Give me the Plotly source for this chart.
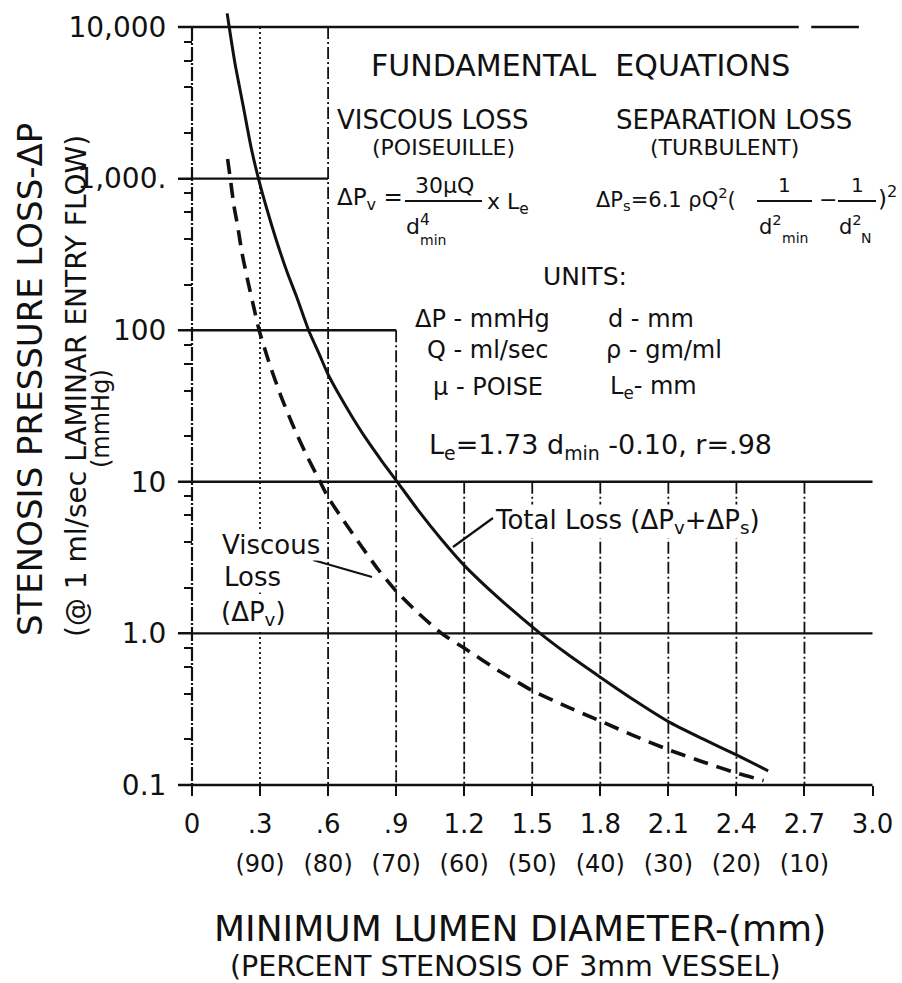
import plotly.graph_objects as go

# ---------------- data ----------------
total_x = [0.155, 0.164, 0.19, 0.226, 0.26, 0.293, 0.33, 0.37, 0.42, 0.46, 0.514,
           0.56, 0.6, 0.65, 0.703, 0.769, 0.84, 0.905, 1.0, 1.1, 1.2, 1.35, 1.535,
           1.65, 1.8, 1.95, 2.1, 2.25, 2.4, 2.54]
total_y = [12300, 10000, 5700, 3000, 1620, 1000, 630, 400, 240, 168, 100,
           70, 51, 37.2, 27.3, 19.1, 13.5, 10, 6.4, 4.16, 2.81, 1.72, 1.0,
           0.739, 0.514, 0.362, 0.262, 0.202, 0.158, 0.124]

visc_x = [0.157, 0.17, 0.185, 0.201, 0.221, 0.248, 0.277, 0.296, 0.34, 0.39, 0.44,
          0.5, 0.565, 0.6, 0.67, 0.75, 0.82, 0.9, 1.0, 1.1, 1.2, 1.35, 1.5, 1.65,
          1.8, 1.95, 2.1, 2.25, 2.4, 2.52]
visc_y = [1345, 971, 660, 489, 320, 205, 132, 100, 61, 37.5, 24.5,
          15.5, 10, 7.9, 5.5, 3.7, 2.65, 1.9, 1.35, 1.0, 0.8, 0.57, 0.42, 0.33,
          0.264, 0.211, 0.171, 0.1425, 0.12, 0.107]

x_tick_vals = [0, 0.3, 0.6, 0.9, 1.2, 1.5, 1.8, 2.1, 2.4, 2.7, 3.0]
x_tick_text = ["0", ".3", ".6", ".9", "1.2", "1.5", "1.8", "2.1", "2.4", "2.7", "3.0"]
pct_tick_vals = [0.3, 0.6, 0.9, 1.2, 1.5, 1.8, 2.1, 2.4, 2.7]
pct_tick_text = ["(90)", "(80)", "(70)", "(60)", "(50)", "(40)", "(30)", "(20)", "(10)"]
y_tick_vals = [0.1, 1, 10, 100, 1000, 10000]
y_tick_text = ["0.1", "1.0", "10", "100", "1,000.", "10,000"]
y_minor_vals = [m * 10.0 ** e for e in range(-1, 4) for m in (2, 4, 6, 8)]

# partial grid lines of the original figure
hgrid_y = [10000, 10000, 1000, 100, 10, 1, 0.1]
hgrid_x0 = [-0.062, 2.73, -0.062, -0.062, -0.062, -0.062, -0.062]
hgrid_x1 = [2.675, 2.94, 0.6, 0.9, 3.0, 3.0, 3.0]
vgrid_x = [0.6, 0.9, 1.2, 1.5, 1.8, 2.1, 2.4, 2.7]
vgrid_top = [10000, 100, 10, 10, 10, 10, 10, 10]
dotted_x = [0.3]
dotted_top = [10000]
axis_bottom = 0.1

# ---------------- geometry ----------------
W, H = 902, 983
X0_PX, X3_PX = 192.0, 872.5
Y4_PX, YM1_PX = 27.0, 785.0
ppx = (X3_PX - X0_PX) / 3.0
ppd = (YM1_PX - Y4_PX) / 5.0
ML, MR, MT, MB = 170, 7, 4, 176
PW, PH = W - ML - MR, H - MT - MB
x_range = [(ML - X0_PX) / ppx, (W - MR - X0_PX) / ppx]
y_range = [-1 - (H - MB - YM1_PX) / ppd, 4 + (Y4_PX - MT) / ppd]


def fx(px):
    return (px - ML) / PW


def fy(py):
    return (H - MB - py) / PH


FONT = "DejaVu Sans"
BLACK = "#111111"


def segs(xs0, xs1, ys0, ys1):
    X, Y = [], []
    for a, b, c, d in zip(xs0, xs1, ys0, ys1):
        X += [a, b, None]
        Y += [c, d, None]
    return X, Y


fig = go.Figure()

# horizontal decade lines
hx, hy = segs(hgrid_x0, hgrid_x1, hgrid_y, hgrid_y)
fig.add_trace(go.Scatter(x=hx, y=hy, mode="lines", line=dict(color=BLACK, width=2.4),
                         hoverinfo="skip", showlegend=False))
# dash-dot verticals
vx, vy = segs(vgrid_x, vgrid_x, vgrid_top, [axis_bottom] * len(vgrid_x))
fig.add_trace(go.Scatter(x=vx, y=vy, mode="lines",
                         line=dict(color=BLACK, width=1.8, dash="12px,3px,2px,3px"),
                         hoverinfo="skip", showlegend=False))
# dotted vertical
dx, dy = segs(dotted_x, dotted_x, dotted_top, [axis_bottom])
fig.add_trace(go.Scatter(x=dx, y=dy, mode="lines",
                         line=dict(color=BLACK, width=1.8, dash="2px,3px"),
                         hoverinfo="skip", showlegend=False))
# y axis line
fig.add_trace(go.Scatter(x=[0, 0], y=[10000, axis_bottom], mode="lines",
                         line=dict(color=BLACK, width=2.2, dash="14px,2px,2px,2px"),
                         hoverinfo="skip", showlegend=False))

# curves
fig.add_trace(go.Scatter(x=total_x, y=total_y, mode="lines", name="Total Loss",
                         line=dict(color=BLACK, width=3, shape="spline", smoothing=0.6),
                         hoverinfo="skip", showlegend=False))
fig.add_trace(go.Scatter(x=visc_x, y=visc_y, mode="lines", name="Viscous Loss",
                         line=dict(color=BLACK, width=3.6, dash="15px,9px",
                                   shape="spline", smoothing=0.6),
                         hoverinfo="skip", showlegend=False))
# invisible trace to carry the percent-stenosis axis
fig.add_trace(go.Scatter(x=[pct_tick_vals[0]], y=[1], xaxis="x2", mode="markers",
                         marker=dict(opacity=0), hoverinfo="skip", showlegend=False))

ann = []


def txt(s, px, py, size, xanchor="center", yanchor="middle", angle=0, bg=None):
    d = dict(text=s, x=fx(px), y=fy(py), xref="paper", yref="paper", showarrow=False,
             xanchor=xanchor, yanchor=yanchor, textangle=angle, borderpad=0,
             font=dict(family=FONT, size=size, color=BLACK))
    if bg:
        d["bgcolor"] = bg
    ann.append(d)


# y-axis titles
txt("STENOSIS PRESSURE LOSS-ΔP", 30, 380, 34, angle=-90)
txt("(@ 1 ml/sec LAMINAR ENTRY FLOW)", 76, 386, 28, angle=-90)
txt("(mmHg)", 101, 419, 24, angle=-90)
# x-axis titles
txt("MINIMUM LUMEN DIAMETER-(mm)", 520, 928, 36)
txt("(PERCENT STENOSIS OF 3mm VESSEL)", 505, 967, 28.5)

# equations block
txt("FUNDAMENTAL  EQUATIONS", 580, 66, 30)
txt("VISCOUS LOSS", 336, 120, 26, xanchor="left")
txt("(POISEUILLE)", 443, 147, 22)
txt("SEPARATION LOSS", 615, 120, 26, xanchor="left")
txt("(TURBULENT)", 724, 147, 22)

txt("ΔP<sub>v</sub> =", 336, 199, 23, xanchor="left")
txt("30μQ", 444, 185, 22)
txt("d<sup>4</sup>", 418, 225, 22)
txt("min", 419, 240, 14, xanchor="left")
txt("x L<sub>e</sub>", 486, 203, 22, xanchor="left")

txt("ΔP<sub>s</sub>=6.1 ρQ<sup>2</sup>(", 595, 199, 21, xanchor="left")
txt("1", 784, 185, 20)
txt("d<sup>2</sup>", 770, 225, 21)
txt("min", 781, 238, 14, xanchor="left")
txt("−", 828, 200, 22)
txt("1", 857, 185, 20)
txt("d<sup>2</sup>", 850, 225, 21)
txt("N", 860, 238, 14, xanchor="left")
txt(")<sup>2</sup>", 877, 197, 23, xanchor="left")

txt("UNITS:", 585, 276, 25)
txt("ΔP - mmHg", 414, 319, 24, xanchor="left")
txt("d - mm", 607, 319, 24, xanchor="left")
txt("Q - ml/sec", 426, 350, 24, xanchor="left")
txt("ρ - gm/ml", 605, 350, 24, xanchor="left")
txt("μ - POISE", 432, 387, 24, xanchor="left")
txt("L<sub>e</sub>- mm", 609, 387, 24, xanchor="left")
txt("L<sub>e</sub>=1.73 d<sub>min</sub> -0.10, r=.98", 428, 446, 27, xanchor="left")

# curve labels
txt("Total Loss (ΔP<sub>v</sub>+ΔP<sub>s</sub>)", 494, 521, 26, xanchor="left", bg="white")
txt("Viscous", 221, 545, 26, xanchor="left", bg="white")
txt("Loss", 223, 577, 26, xanchor="left", bg="white")
txt("(ΔP<sub>v</sub>)", 220, 613, 26, xanchor="left", bg="white")

shapes = []


def seg(x0, y0, x1, y1, w=2.0):
    shapes.append(dict(type="line", xref="paper", yref="paper", x0=fx(x0), y0=fy(y0),
                       x1=fx(x1), y1=fy(y1), line=dict(color=BLACK, width=w)))


# fraction bars
seg(405, 201, 482, 201)
seg(757, 201, 812, 201)
seg(838, 201, 876, 201)
# pointer lines
seg(453, 547, 493, 518, 2.2)
seg(313, 560, 372, 577, 2.2)

tickfont_y = dict(family=FONT, size=28, color=BLACK)
fig.update_layout(
    width=W, height=H, autosize=False,
    margin=dict(l=ML, r=MR, t=MT, b=MB, pad=0),
    paper_bgcolor="white", plot_bgcolor="white",
    showlegend=False,
    annotations=ann, shapes=shapes,
    xaxis=dict(range=x_range, showgrid=False, zeroline=False, showline=False,
               anchor="free", position=fy(YM1_PX),
               tickmode="array", tickvals=x_tick_vals, ticktext=x_tick_text,
               ticks="outside", ticklen=10, tickwidth=2, tickcolor=BLACK,
               ticklabelstandoff=6,
               tickfont=dict(family=FONT, size=26, color=BLACK)),
    xaxis2=dict(range=x_range, overlaying="x", showgrid=False, zeroline=False,
                showline=False, anchor="free", position=fy(YM1_PX), side="bottom",
                tickmode="array", tickvals=pct_tick_vals, ticktext=pct_tick_text,
                ticks="", ticklabelstandoff=62,
                tickfont=dict(family=FONT, size=24, color=BLACK)),
    yaxis=dict(type="log", range=y_range, showgrid=False, zeroline=False, showline=False,
               anchor="free", position=fx(X0_PX),
               tickmode="array", tickvals=y_tick_vals, ticktext=y_tick_text,
               ticks="outside", ticklen=14, tickwidth=2, tickcolor=BLACK,
               ticklabelstandoff=6, tickfont=tickfont_y,
               minor=dict(tickvals=y_minor_vals, ticks="outside", ticklen=8,
                          tickwidth=2, tickcolor=BLACK, showgrid=False)),
)

fig.write_html("out.html", config={"displayModeBar": False},
               post_script="document.body.style.margin='0';")
